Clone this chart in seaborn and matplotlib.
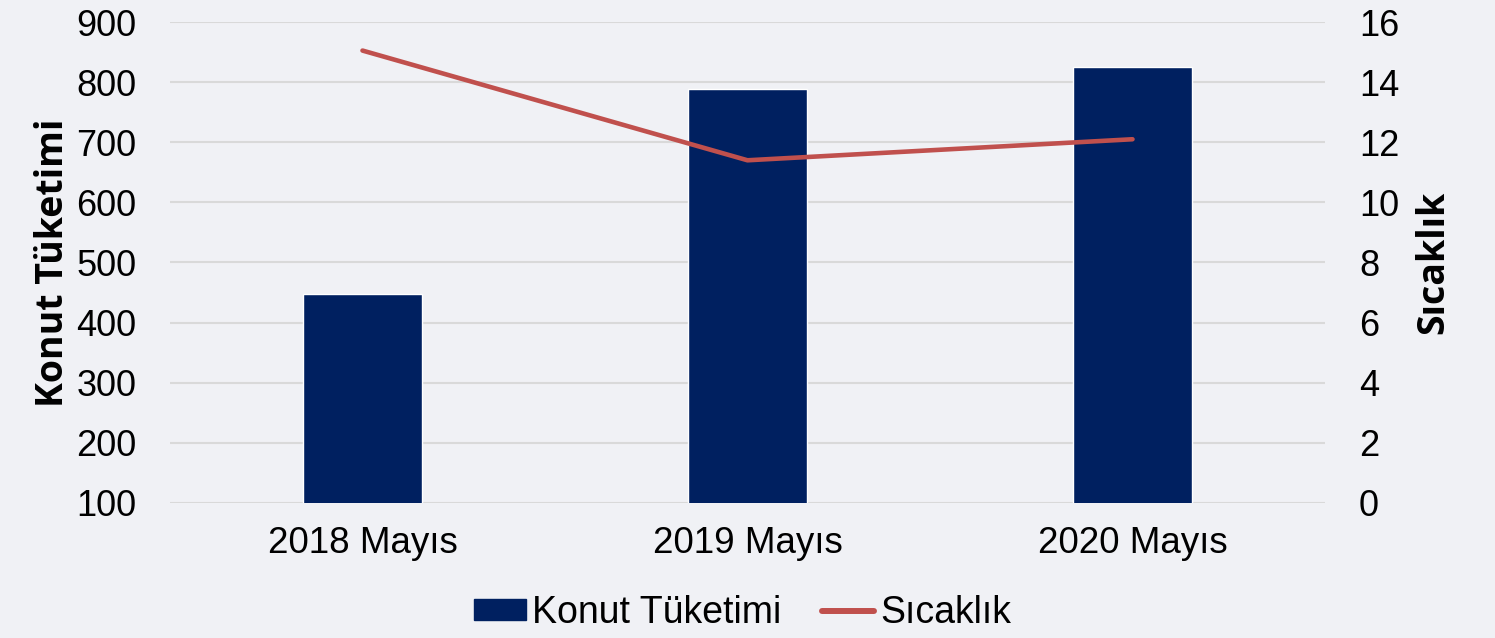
import matplotlib
matplotlib.use("Agg")
import matplotlib.pyplot as plt
import seaborn as sns
import pandas as pd
from matplotlib.patches import Patch
from matplotlib.lines import Line2D

categories = ["2018 Mayıs", "2019 Mayıs", "2020 Mayıs"]
konut = [448, 789, 825]
sicaklik = [15.05, 11.4, 12.1]

BG = "#F0F1F5"
BAR = "#002060"
LINE = "#C0504D"

sns.set_theme(style="white")
plt.rcParams['font.family'] = ['Liberation Sans', 'DejaVu Sans']
plt.rcParams['text.color'] = 'black'

df = pd.DataFrame({"Dönem": categories, "Konut Tüketimi": konut, "Sıcaklık": sicaklik})

fig = plt.figure(figsize=(14.95, 6.38), dpi=100, facecolor=BG)
ax = fig.add_axes([170/1495, 1-503/638, (1325-170)/1495, (503-22)/638])
ax.set_facecolor(BG)

sns.barplot(data=df, x="Dönem", y="Konut Tüketimi", color=BAR, width=0.31,
            saturation=1, ax=ax, zorder=3)
ax.set_ylim(100, 900)
ax.set_yticks(range(100, 1000, 100))
ax.set_xlim(-0.5, 2.5)
ax.grid(axis="y", color="#D9D9D9", linewidth=1.5, zorder=0)
ax.set_axisbelow(True)
for s in ax.spines.values():
    s.set_visible(False)
ax.tick_params(axis="y", length=0, pad=24, labelsize=26, labelcolor="black")
ax.tick_params(axis="x", length=0, pad=16.5, labelsize=26.5, labelcolor="black")
ax.set_xlabel("")
ax.set_ylabel("Konut Tüketimi", fontsize=27, fontweight="bold", family=["Open Sans", "DejaVu Sans"],
              labelpad=3, color="black")

ax2 = ax.twinx()
sns.pointplot(data=df, x="Dönem", y="Sıcaklık", color=LINE, markers="", linewidth=3.3, ax=ax2)
ax2.set_ylim(0, 16)
ax2.set_yticks(range(0, 18, 2))
ax2.set_xlim(-0.5, 2.5)
for s in ax2.spines.values():
    s.set_visible(False)
ax2.tick_params(axis="y", length=0, pad=24.5, labelsize=26, labelcolor="black")
ax2.set_ylabel("Sıcaklık", fontsize=27, fontweight="bold", family=["Open Sans", "DejaVu Sans"],
               labelpad=10.5, color="black")
ax2.set_xlabel("")
ax2.grid(False)

handles = [Patch(facecolor=BAR, edgecolor=BAR, label="Konut Tüketimi"),
           Line2D([0], [0], color=LINE, linewidth=4.3, solid_capstyle="round", label="Sıcaklık")]
leg = fig.legend(handles=handles, loc="center", bbox_to_anchor=(742.5/1495, 1-613/638), ncol=2,
                 frameon=False, prop={"family": ["Liberation Sans"], "size": 27},
                 handlelength=1.39, handleheight=0.48, handletextpad=0.16, columnspacing=1.07,
                 borderpad=0.1)
for t in leg.get_texts():
    t.set_color("black")

fig.savefig("out.png", dpi=100, facecolor=BG)
